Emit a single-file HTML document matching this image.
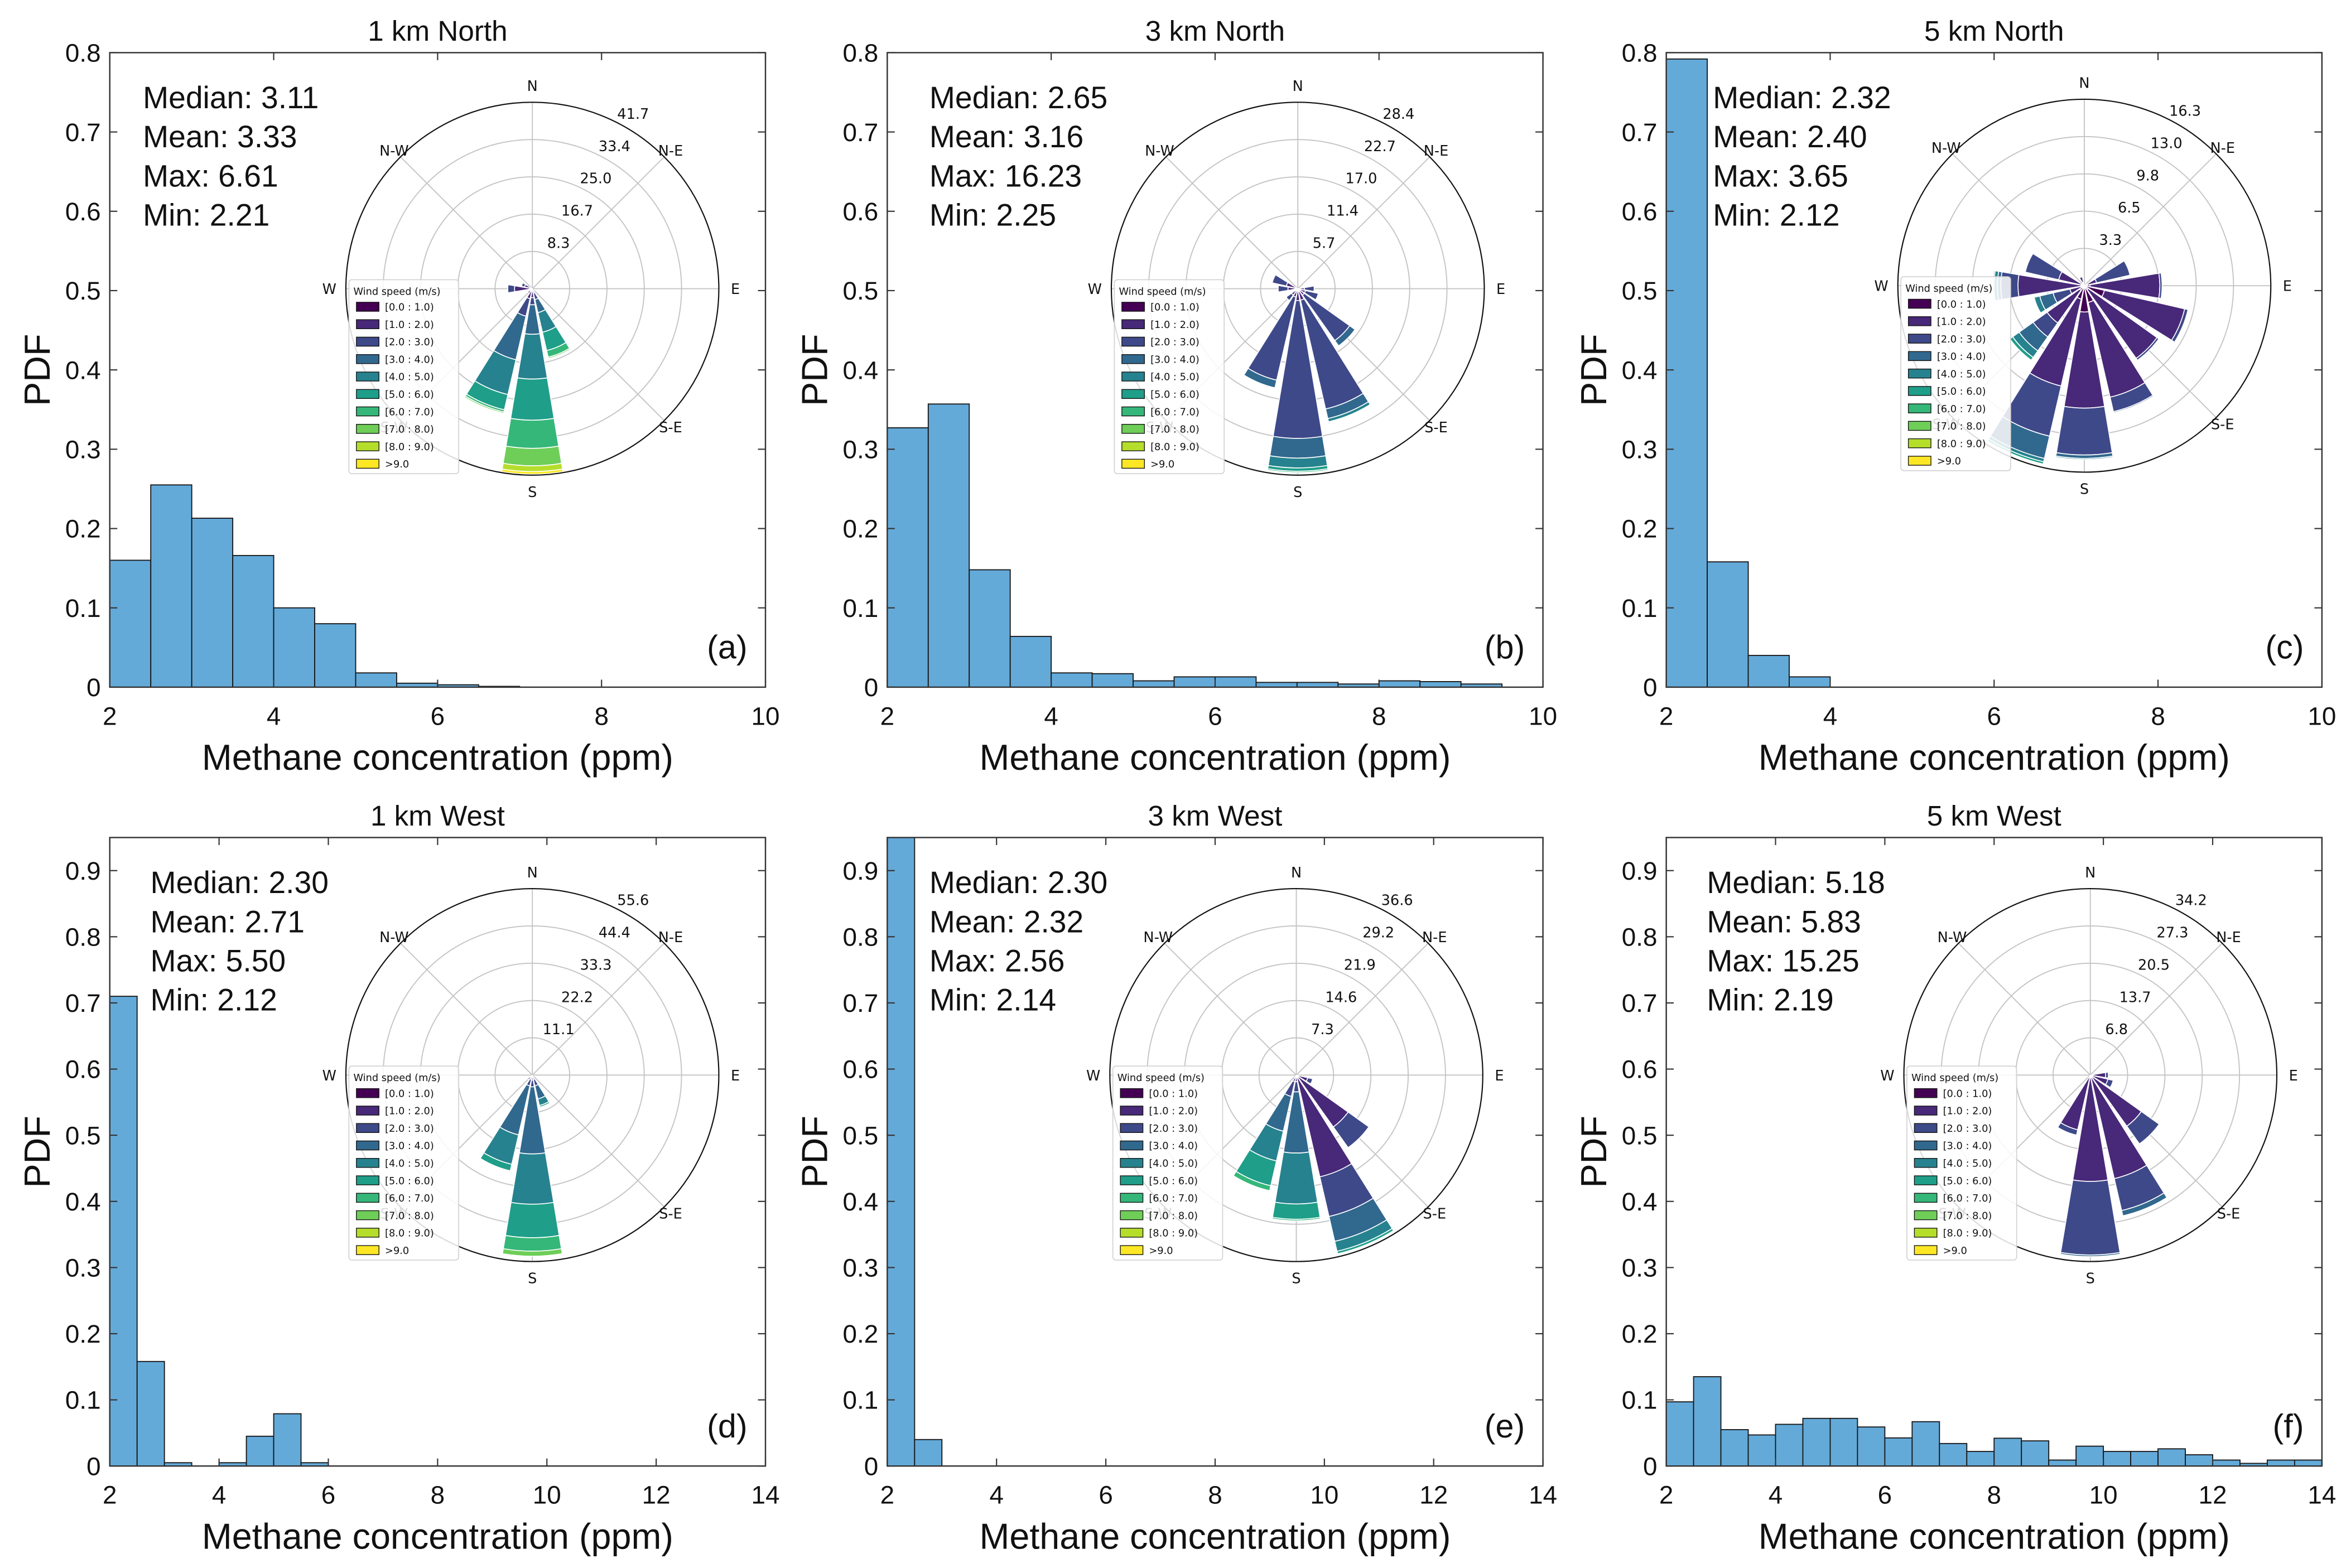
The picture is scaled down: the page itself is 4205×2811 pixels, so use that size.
<!DOCTYPE html>
<html><head><meta charset="utf-8"><style>
html,body{margin:0;padding:0;background:#fff;}
svg{display:block;}
text{font-family:"Liberation Sans",Arial,sans-serif;fill:#111;}
.rt{font-family:"DejaVu Sans","Liberation Sans",sans-serif;}
</style></head><body>
<svg id="fig" xmlns="http://www.w3.org/2000/svg" width="4205" height="2811" viewBox="0 0 1560 1042.8"></svg>
<script>
// ---------- data ----------
const panelTitles = ["1 km North","3 km North","5 km North","1 km West","3 km West","5 km West"];
const panelLetters = ["(a)","(b)","(c)","(d)","(e)","(f)"];
const statMedian = ["2.30","2.65","2.32","2.30","2.30","5.18"];
statMedian[0]="3.11";
const statMean = ["3.33","3.16","2.40","2.71","2.32","5.83"];
const statMax = ["6.61","16.23","3.65","5.50","2.56","15.25"];
const statMin = ["2.21","2.25","2.12","2.12","2.14","2.19"];
const binWidth = 0.5;
const histA = [0.16,0.255,0.213,0.166,0.10,0.08,0.018,0.005,0.003,0.001];
const histB = [0.327,0.357,0.148,0.064,0.018,0.017,0.008,0.013,0.013,0.006,0.006,0.004,0.008,0.007,0.004];
const histC = [0.792,0.158,0.04,0.013];
const histD = [0.71,0.158,0.005,0,0.005,0.045,0.079,0.005];
const histE = [0.96,0.04];
const histF = [0.097,0.135,0.055,0.047,0.063,0.072,0.072,0.059,0.0425,0.067,0.034,0.022,0.042,0.038,0.009,0.030,0.022,0.022,0.026,0.017,0.009,0.004,0.009,0.009];
const xTicksTop = [2,4,6,8,10];
const xTicksBottom = [2,4,6,8,10,12,14];
const yTicksTop = [0,0.1,0.2,0.3,0.4,0.5,0.6,0.7,0.8];
const yTicksBottom = [0,0.1,0.2,0.3,0.4,0.5,0.6,0.7,0.8,0.9];
const roseRingLabels = [
 ["8.3","16.7","25.0","33.4","41.7"],
 ["5.7","11.4","17.0","22.7","28.4"],
 ["3.3","6.5","9.8","13.0","16.3"],
 ["11.1","22.2","33.3","44.4","55.6"],
 ["7.3","14.6","21.9","29.2","36.6"],
 ["6.8","13.7","20.5","27.3","34.2"]];
const roseMax = [41.7,28.4,16.3,55.6,36.6,34.2];
const speedBins = ["[0.0 : 1.0)","[1.0 : 2.0)","[2.0 : 3.0)","[3.0 : 4.0)","[4.0 : 5.0)","[5.0 : 6.0)","[6.0 : 7.0)","[7.0 : 8.0)","[8.0 : 9.0)",">9.0"];
const compassLabels = ["N","N-E","E","S-E","S","S-W","W","N-W"];
// rose sectors: direction (deg from N, clockwise), stacked per speed-bin frequencies
const roseDirsA = [180,202.5,157.5,270,292.5,225];
const roseValsA = [[0.5,1.5,1.6,6.6,10,9.2,6.3,3.9,1.3,0.6],[0.3,2,4,10,8,3.5,0.5,0.3],[0.3,0.7,1.5,3,4.5,4.2,1.5,0.3],[0.5,3.5,1.5],[0.3,1.5,0.7],[0.3,1]];
const roseDirsB = [180,157.5,202.5,135,112.5,90,292.5,270,225];
const roseValsB = [[0.3,1.5,21,3,1.5,0.5,0.2],[0.3,1.5,17,1.5,0.5],[0.3,1,13,1.2],[0.2,1,8.5,1],[0.2,1,2],[0.2,0.8,1.5],[0.3,1.5,2.2],[0.3,1.2,1.5],[0.2,1,1]];
const roseDirsC = [180,202.5,225,247.5,270,292.5,337.5,67.5,90,112.5,135,157.5];
const roseValsC = [[2.3,8.4,4.1,0.3,0.1],[1.2,7.8,4.5,2,0.3,0.2],[0.5,3.5,1.5,1.5,0.7,0.3],[0.3,1,1.5,1.2,0.5],[0.3,5.5,1.5,0.3,0.3,0.1],[0.3,2,3],[0.3,0.5],[0.3,0.8,3],[0.5,6.1,0.2],[1.8,7.2,0.3],[0.4,7.4,0.2],[1.5,8.5,1.3,0.1]];
const roseDirsD = [180,202.5,157.5,225];
const roseValsD = [[0.5,1,2,20,15,10,4,1.5],[0.3,1,2,15,9,2],[0.3,1,2,4,2,0.5],[0.2,0.5,1]];
const roseDirsE = [180,157.5,202.5,135,112.5];
const roseValsE = [[0.3,1,2,12,10,3,0.3],[0.5,20,8,5,2,0.5],[0.3,1,3,7,6,5,1],[0.5,12,5],[0.3,2,1]];
const roseDirsF = [180,157.5,202.5,135,112.5,90];
const roseValsF = [[0.5,19,13.5,0.3],[0.5,19,6,1],[0.3,10,1],[0.5,11,4],[0.3,3,1],[0.3,2.5,0.5]];

const hists=[histA,histB,histC,histD,histE,histF];
const roseDirs=[roseDirsA,roseDirsB,roseDirsC,roseDirsD,roseDirsE,roseDirsF];
const roseVals=[roseValsA,roseValsB,roseValsC,roseValsD,roseValsE,roseValsF];
const viridis=["#440154","#482878","#3e4989","#31688e","#26828e","#1f9e89","#35b779","#6ece58","#b5de2b","#fde725"];

const NS="http://www.w3.org/2000/svg";
const svg=document.getElementById('fig');
function mk(tag,attrs,parent){const e=document.createElementNS(NS,tag);for(const k in attrs)e.setAttribute(k,attrs[k]);(parent||svg).appendChild(e);return e;}
function txt(s,attrs,parent){const e=mk('text',attrs,parent);e.textContent=s;return e;}

const colX=[73,590,1108], axW=436;
const rows=[{top:35,bot:457,ymax:0.8,xmax:10,yt:yTicksTop,xt:xTicksTop},{top:557,bot:975,ymax:0.95,xmax:14,yt:yTicksBottom,xt:xTicksBottom}];
const statX=[95,618,1139,100,618,1135];
const roseC=[[354,192],[863,192],[1386,190],[354,715],[862,715],[1390,715]];
const R=124;

for(let p=0;p<6;p++){
  const row=rows[Math.floor(p/3)], x0=colX[p%3], x1=x0+axW;
  const g=mk('g',{});
  
  
  const sx=v=>x0+(v-2)/(row.xmax-2)*axW;
  const sy=v=>row.bot-Math.min(v,row.ymax)/row.ymax*(row.bot-row.top);
  // bars
  hists[p].forEach((v,i)=>{ if(v<=0) return;
    const xa=sx(2+i*binWidth), xb=sx(2+(i+1)*binWidth);
    const r=mk('rect',{x:xa,y:sy(v),width:xb-xa,height:row.bot-sy(v),fill:'#64aad9',stroke:'#1a1a1a','stroke-width':0.7},g);
    
    
  });
  // axes box
  const box=mk('rect',{x:x0,y:row.top,width:axW,height:row.bot-row.top,fill:'none',stroke:'#333','stroke-width':0.9},g);
  
  
  row.yt.forEach(t=>{const y=sy(t);
    mk('line',{x1:x0,x2:x0+5,y1:y,y2:y,stroke:'#333','stroke-width':0.8},g);
    mk('line',{x1:x1-5,x2:x1,y1:y,y2:y,stroke:'#333','stroke-width':0.8},g);
    const l=txt(t===0?'0':t.toFixed(1),{x:x0-6,y:y+6,'font-size':17,'text-anchor':'end'},g);
    
    
  });
  row.xt.forEach(t=>{const x=sx(t);
    mk('line',{x1:x,x2:x,y1:row.bot,y2:row.bot-5,stroke:'#333','stroke-width':0.8},g);
    mk('line',{x1:x,x2:x,y1:row.top,y2:row.top+5,stroke:'#333','stroke-width':0.8},g);
    const l=txt(String(t),{x:x,y:row.bot+25,'font-size':17,'text-anchor':'middle'},g);
    
    
  });
  const tt=txt(panelTitles[p],{x:x0+axW/2,y:row.top-8,'font-size':19,'text-anchor':'middle'},g);
  
  
  const xl=txt('Methane concentration (ppm)',{x:x0+axW/2,y:row.bot+55,'font-size':24,'text-anchor':'middle'},g);
  
  
  const yc=(row.top+row.bot)/2;
  const yl=txt('PDF',{x:x0-40,y:yc,'font-size':24,'text-anchor':'middle',transform:`rotate(-90 ${x0-40} ${yc})`},g);
  
  
  const st=[ 'Median: '+statMedian[p],'Mean: '+statMean[p],'Max: '+statMax[p],'Min: '+statMin[p]];
  st.forEach((s,i)=>{const e=txt(s,{x:statX[p],y:row.top+37+i*26,'font-size':20.5},g);
    
    });
  const le=txt(panelLetters[p],{x:x1-12,y:row.bot-19,'font-size':22,'text-anchor':'end'},g);
  
  

  // ---- wind rose ----
  const [cx,cy]=roseC[p];
  const rg=mk('g',{},g);
  
  
  mk('circle',{cx,cy,r:R,fill:'#fff',stroke:'none'},rg);
  for(let k=1;k<=4;k++) mk('circle',{cx,cy,r:R*k/5,fill:'none',stroke:'#c4c4c4','stroke-width':0.7},rg);
  for(let k=0;k<4;k++){const a=k*Math.PI/4;
    mk('line',{x1:cx+R*Math.sin(a),y1:cy-R*Math.cos(a),x2:cx-R*Math.sin(a),y2:cy+R*Math.cos(a),stroke:'#c4c4c4','stroke-width':0.7},rg);}
  const rs=v=>v/roseMax[p]*R;
  const half=9.5*Math.PI/180;
  roseDirs[p].forEach((d,i)=>{
    let acc=0; const a=d*Math.PI/180;
    roseVals[p][i].forEach((v,b)=>{
      const r0=rs(acc), r1=rs(acc+v); acc+=v;
      const pt=(r,t)=>[cx+r*Math.sin(t),cy-r*Math.cos(t)];
      const A=pt(r0,a-half),B=pt(r1,a-half),C=pt(r1,a+half),D=pt(r0,a+half);
      const path=`M${A} L${B} A${r1} ${r1} 0 0 1 ${C} L${D} A${r0} ${r0} 0 0 0 ${A} Z`;
      const s=mk('path',{d:path,fill:viridis[b],stroke:'#fff','stroke-width':0.6},rg);
      
      
    });
  });
  mk('circle',{cx,cy,r:R,fill:'none',stroke:'#111','stroke-width':0.8},rg);
  compassLabels.forEach((c,k)=>{const a=k*Math.PI/4, rr=R+(k%2?6:11);
    const e=txt(c,{x:cx+rr*Math.sin(a),y:cy-rr*Math.cos(a)+3.5,'font-size':9.5,'text-anchor':'middle',class:'rt'},rg);
    
    });
  roseRingLabels[p].forEach((s,k)=>{const rr=R*(k+1)/5+10, a=30*Math.PI/180;
    const e=txt(s,{x:cx+rr*Math.sin(a),y:cy-rr*Math.cos(a)+3,'font-size':9.5,'text-anchor':'middle',class:'rt'},rg);
    
    });
  // legend
  const lg=mk('g',{},rg);
  
  
  mk('rect',{x:cx-122,y:cy-6,width:73,height:129,rx:2,fill:'#fff','fill-opacity':0.85,stroke:'#d0d0d0','stroke-width':0.6},lg);
  txt('Wind speed (m/s)',{x:cx-119,y:cy+4,'font-size':6.6,class:'rt'},lg);
  speedBins.forEach((s,b)=>{const yy=cy+9+b*11.6;
    mk('rect',{x:cx-117,y:yy,width:15,height:6,fill:viridis[b],stroke:'#111','stroke-width':0.5},lg);
    txt(s,{x:cx-98,y:yy+5.5,'font-size':6.6,class:'rt'},lg);});
}
</script>
</body></html>
